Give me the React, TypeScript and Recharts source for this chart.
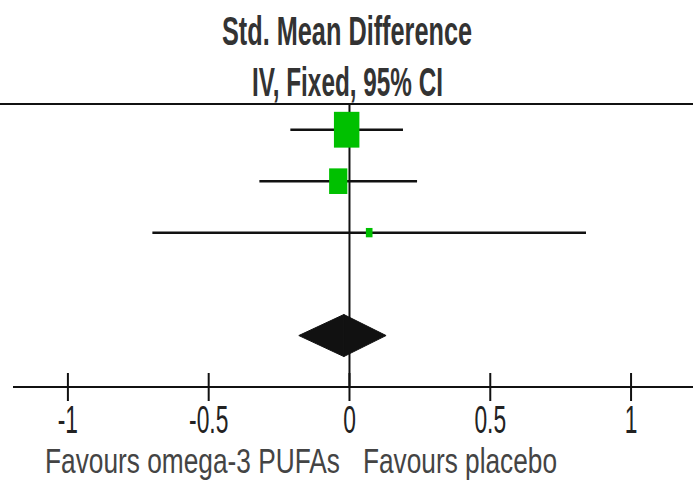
import { ScatterChart, Scatter, XAxis, YAxis, ReferenceLine } from "recharts";

// Individual trials (row index counts down from the header line)
const studyRows = [0, 1, 2];
const estimates = [-0.01, -0.04, 0.07];
const lowerCI = [-0.21, -0.32, -0.7];
const upperCI = [0.19, 0.24, 0.84];
const weights = [63.3, 32.4, 4.3];

// Pooled fixed-effect result
const pooledRow = 4;
const pooledEstimate = -0.02;
const pooledLower = -0.18;
const pooledUpper = 0.13;

const xTicks = [-1, -0.5, 0, 0.5, 1];
const tickLabels = ["-1", "-0.5", "0", "0.5", "1"];
const headerLines = ["Std. Mean Difference", "IV, Fixed, 95% CI"];
const footerLabels = ["Favours omega-3 PUFAs", "Favours placebo"];

const WIDTH = 693;
const HEIGHT = 492;
const FONT = "'Liberation Sans', Arial, sans-serif";
const INK = "#111";
const BOX = "#00c000";

const studyData = studyRows.map((row, i) => ({
  x: estimates[i],
  y: row,
  weight: weights[i],
}));

// weight-scaled box, a bit taller than wide like the RevMan export
const WeightBox = (props: any) => {
  const { cx, cy, payload } = props;
  const s = Math.sqrt(payload.weight);
  const w = 3.2 * s;
  const h = 4.5 * s;
  return <rect x={cx - w / 2} y={cy - h / 2} width={w} height={h} fill={BOX} />;
};

// half of the summary diamond; the segment runs from one tip to the centre
const DiamondHalf = (side: "left" | "right") => (props: any) => {
  const { x1, y1, x2 } = props;
  const h = 21;
  const pts =
    side === "left"
      ? `${x1},${y1} ${x2},${y1 - h} ${x2},${y1 + h}`
      : `${x1},${y1 - h} ${x2},${y1} ${x1},${y1 + h}`;
  return <polygon points={pts} fill={INK} stroke={INK} strokeWidth={1} />;
};

const AxisTick = (props: any) => {
  const { x, y, payload } = props;
  const label = tickLabels[xTicks.indexOf(payload.value)];
  return (
    <g>
      <line x1={x} x2={x} y1={y - 14} y2={y + 14} stroke={INK} strokeWidth={2} />
      <text
        transform={`translate(${x},${y + 46}) scale(0.6,1)`}
        textAnchor="middle"
        fontSize={38}
        fontFamily={FONT}
        fill="#222"
      >
        {label}
      </text>
    </g>
  );
};

// narrow, tall footer caption: set small, then stretched vertically
const Caption = ({ x, width, children }: { x: number; width: number; children: string }) => (
  <text
    transform={`translate(${x},473) scale(1,1.38)`}
    fontSize={26}
    fontFamily={FONT}
    fill="#444"
    textLength={width}
    lengthAdjust="spacingAndGlyphs"
  >
    {children}
  </text>
);

export default function App() {
  return (
    <div style={{ position: "absolute", left: 0, top: 0, width: WIDTH, height: HEIGHT, background: "#fff" }}>
      <ScatterChart width={WIDTH} height={HEIGHT} margin={{ top: 104, right: 0, bottom: 0, left: 13 }}>
        <XAxis
          type="number"
          dataKey="x"
          domain={[-1.195, 1.22]}
          ticks={xTicks}
          allowDataOverflow
          height={105}
          axisLine={{ stroke: INK, strokeWidth: 2 }}
          tickLine={false}
          tickSize={0}
          tickMargin={0}
          tick={<AxisTick />}
          interval={0}
        />
        <YAxis type="number" dataKey="y" domain={[-0.5, 5]} reversed hide width={0} />

        {/* header rule runs across the whole panel */}
        <ReferenceLine
          segment={[{ x: -1.245, y: -0.5 }, { x: 1.22, y: -0.5 }]}
          stroke={INK}
          strokeWidth={2}
          ifOverflow="visible"
        />
        <ReferenceLine x={0} stroke={INK} strokeWidth={2} />

        {studyRows.map((row, i) => (
          <ReferenceLine
            key={`ci-${row}`}
            segment={[{ x: lowerCI[i], y: row }, { x: upperCI[i], y: row }]}
            stroke={INK}
            strokeWidth={2.5}
          />
        ))}

        <ReferenceLine
          segment={[{ x: pooledLower, y: pooledRow }, { x: pooledEstimate, y: pooledRow }]}
          shape={DiamondHalf("left")}
        />
        <ReferenceLine
          segment={[{ x: pooledEstimate, y: pooledRow }, { x: pooledUpper, y: pooledRow }]}
          shape={DiamondHalf("right")}
        />

        <Scatter data={studyData} shape={<WeightBox />} isAnimationActive={false} />
      </ScatterChart>

      <svg
        width={WIDTH}
        height={HEIGHT}
        style={{ position: "absolute", left: 0, top: 0, pointerEvents: "none" }}
      >
        <text x={347} y={45} textAnchor="middle" fontSize={40} fontWeight="bold" fontFamily={FONT} fill="#333"
          textLength={250} lengthAdjust="spacingAndGlyphs">
          {headerLines[0]}
        </text>
        <text x={347.5} y={96} textAnchor="middle" fontSize={40} fontWeight="bold" fontFamily={FONT} fill="#333"
          textLength={191} lengthAdjust="spacingAndGlyphs">
          {headerLines[1]}
        </text>
        <Caption x={45} width={295}>{footerLabels[0]}</Caption>
        <Caption x={363} width={194}>{footerLabels[1]}</Caption>
      </svg>
    </div>
  );
}
